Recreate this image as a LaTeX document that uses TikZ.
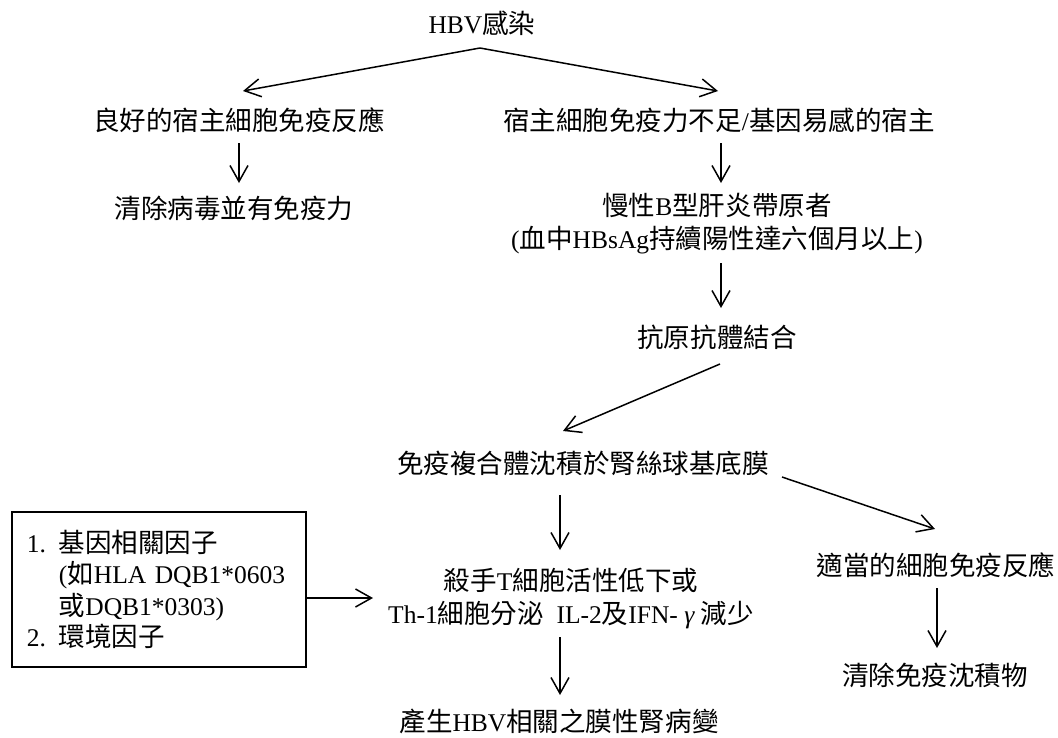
\documentclass[tikz,border=0pt]{standalone}
\usepackage{fontspec}
\setmainfont{Liberation Serif}
\newfontfamily\cjfont{Noto Sans CJK TC}[Scale=1.04]
\newcommand\zh[1]{{\cjfont #1}}
\usetikzlibrary{arrows.meta}
\newcommand\sst{\vrule height 23.3pt depth 3.2pt width 0pt}
\begin{document}
\begin{tikzpicture}[x=1pt,y=-1pt,
  lbl/.style={inner sep=0pt, align=center, font=\fontsize{25.5}{33}\selectfont},
  arr/.style={line width=1.5pt, -{Straight Barb[length=16pt,width=18pt,line width=1.5pt]}},
  factorbox/.style={draw, line width=1.5pt, minimum width=294pt, minimum height=155pt,
    text width=264pt, inner xsep=15pt, inner ysep=0pt, align=left,
    font=\fontsize{25.5}{31.3}\selectfont}]
\useasboundingbox (0,0) rectangle (1058,737);

\node[lbl] (hbv) at (482,23) {\sst HBV\zh{感染}};
\node[lbl] (good) at (239,120) {\sst\zh{良好的宿主細胞免疫反應}};
\node[lbl] (poor) at (719,120) {\sst\zh{宿主細胞免疫力不足}/\zh{基因易感的宿主}};
\node[lbl] (clear1) at (234,208) {\sst\zh{清除病毒並有免疫力}};
\node[lbl] (carrier) at (717,223.5) {\sst\zh{慢性}B\zh{型肝炎帶原者}\\\sst(\zh{血中}HBsAg\zh{持續陽性達六個月以上})};
\node[lbl] (ag) at (717,337) {\sst\zh{抗原抗體結合}};
\node[lbl] (ic) at (583,463) {\sst\zh{免疫複合體沈積於腎絲球基底膜}};
\node[lbl] (ctl) at (571,598.5) {\sst\zh{殺手}T\zh{細胞活性低下或}\\\sst Th-1\zh{細胞分泌}\ \ IL-2\zh{及}IFN- {\itshape γ} \zh{減少}};
\node[lbl] (adeq) at (936,565) {\sst\zh{適當的細胞免疫反應}};
\node[lbl] (clear2) at (935,675) {\sst\zh{清除免疫沈積物}};
\node[lbl] (mgn) at (559,721) {\sst\zh{產生}HBV\zh{相關之膜性腎病變}};
\node[factorbox] (factors) at (159,589.5) {\sst 1. \zh{基因相關因子}\\\sst\hphantom{1. }(\zh{如}HLA~DQB1*0603\\\sst\hphantom{1. }\zh{或}DQB1*0303)\\\sst 2. \zh{環境因子}};

% connector end points
\coordinate (apex) at (480,48);
\coordinate (goodtip) at (243,91);
\coordinate (poortip) at (718,91);
\coordinate (ctltip) at (373,598);

\draw[arr] (apex) -- (goodtip);
\draw[arr] (apex) -- (poortip);
\draw[arr] (239,143) -- (239,183);
\draw[arr] (721,143) -- (721,183);
\draw[arr] (721,263) -- (721,308);
\draw[arr] (720,364) -- (563,431);
\draw[arr] (782,477) -- (935,529);
\draw[arr] (560,495) -- (560,550);
\draw[arr] (937,588) -- (937,648);
\draw[arr] (560,637) -- (560,695);
\draw[arr] (factors.east |- ctltip) -- (ctltip);
\end{tikzpicture}
\end{document}
